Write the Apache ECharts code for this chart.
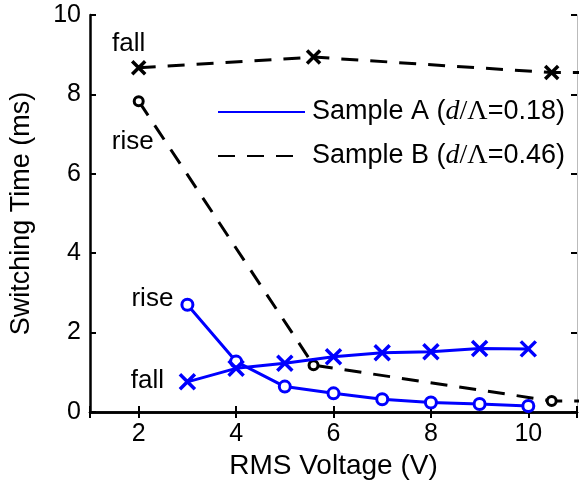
<!DOCTYPE html>
<html>
<head>
<meta charset="utf-8">
<script src="https://cdn.jsdelivr.net/npm/echarts@6/dist/echarts.min.js"></script>
<style>
html,body{margin:0;padding:0;background:#fff;}
#chart{width:580px;height:487px;}
</style>
</head>
<body>
<div id="chart"></div>
<script>
// ---- data ----
const voltageA = [3, 4, 5, 6, 7, 8, 9, 10];
const riseA = [2.70, 1.27, 0.64, 0.47, 0.32, 0.24, 0.20, 0.15];
const fallA = [0.76, 1.10, 1.23, 1.39, 1.49, 1.52, 1.60, 1.59];
const voltageB = [2, 5.59, 10.48, 11.2];
const riseB = [7.83, 1.18, 0.28, 0.28];
const fallB = [8.67, 8.94, 8.55, 8.55];
const xTicks = [2, 4, 6, 8, 10];
const yTicks = [0, 2, 4, 6, 8, 10];
const nameA = 'Sample A (d/Λ=0.18)';
const nameB = 'Sample B (d/Λ=0.46)';

const FONT = 'Liberation Sans, Arial, sans-serif';
const BLUE = '#0000ff';
const BLACK = '#000000';
const XSYM = 'path://M0,0L10,10M0,10L10,0';

function pairs(xs, ys, labelIdx, labelOpt, hideLast) {
  return xs.map((x, i) => {
    const item = { value: [x, ys[i]] };
    if (i === labelIdx) {
      item.label = Object.assign({
        show: true, position: 'inside', color: '#000',
        fontFamily: FONT, fontSize: 26
      }, labelOpt);
    }
    if (hideLast && i === xs.length - 1) item.symbol = 'none';
    return item;
  });
}

const chart = echarts.init(document.getElementById('chart'), null, { renderer: 'canvas' });

const axisCommon = {
  axisLine: { show: true, lineStyle: { color: '#000', width: 2.5 } },
  axisTick: { show: true, inside: true, length: 6, lineStyle: { color: '#000', width: 2 } },
  splitLine: { show: false }
};

chart.setOption({
  animation: false,
  backgroundColor: '#fff',
  grid: { left: 87, right: 2, top: 15, bottom: 75, containLabel: false },
  legend: {
    orient: 'vertical',
    left: 217, top: 97,
    padding: 0,
    itemWidth: 87, itemHeight: 20, itemGap: 14,
    selectedMode: false,
    itemStyle: { opacity: 0 },
    data: [nameA, nameB],
    formatter: function (name) {
      const m = name.match(/^(Sample .) \(d\/Λ=(.*)\)$/);
      return '{n|' + m[1] + ' (}{i|d}{s|/Λ}{n|=' + m[2] + ')}';
    },
    textStyle: {
      color: '#000', fontFamily: FONT, fontSize: 27, lineHeight: 30, padding: [0, 0, 0, 2],
      rich: {
        n: { fontFamily: FONT, fontSize: 27, color: '#000' },
        i: { fontFamily: 'Liberation Serif, Times New Roman, serif', fontStyle: 'italic', fontSize: 28, color: '#000' },
        s: { fontFamily: 'Liberation Serif, Times New Roman, serif', fontSize: 28, color: '#000' }
      }
    }
  },
  xAxis: [
    Object.assign({}, axisCommon, {
      type: 'value', min: 1, max: 11, splitNumber: 5,
      position: 'bottom',
      name: 'RMS Voltage (V)', nameLocation: 'middle', nameGap: 40,
      nameTextStyle: { color: '#000', fontFamily: FONT, fontSize: 28 },
      axisLabel: {
        color: '#000', fontFamily: FONT, fontSize: 25, margin: 10,
        formatter: v => (xTicks.indexOf(v) >= 0 ? String(v) : '')
      }
    }),
    Object.assign({}, axisCommon, {
      type: 'value', min: 1, max: 11, splitNumber: 5,
      position: 'top',
      axisLabel: { show: false }
    })
  ],
  yAxis: [
    Object.assign({}, axisCommon, {
      type: 'value', min: yTicks[0], max: yTicks[yTicks.length - 1], interval: 2,
      position: 'left',
      name: 'Switching Time (ms)', nameLocation: 'middle', nameGap: 55,
      nameTextStyle: { color: '#000', fontFamily: FONT, fontSize: 27 },
      axisLabel: { color: '#000', fontFamily: FONT, fontSize: 25, margin: 9 }
    }),
    Object.assign({}, axisCommon, {
      type: 'value', min: yTicks[0], max: yTicks[yTicks.length - 1], interval: 2,
      position: 'right',
      axisLine: { show: true, lineStyle: { color: '#bbbbbb', width: 1 } },
      axisLabel: { show: false }
    })
  ],
  series: [
    {
      name: nameA, type: 'line',
      data: pairs(voltageA, riseA, 0, { formatter: 'rise', offset: [-35, -6] }, false),
      symbol: 'circle', symbolSize: 11,
      lineStyle: { color: BLUE, width: 3 },
      itemStyle: { color: '#ffffff', borderColor: BLUE, borderWidth: 3 },
      emphasis: { disabled: true }, z: 3
    },
    {
      name: nameA, type: 'line',
      data: pairs(voltageA, fallA, 0, { formatter: 'fall', offset: [-40, -1] }, false),
      symbol: XSYM, symbolSize: 15,
      lineStyle: { color: BLUE, width: 3 },
      itemStyle: { color: BLUE, borderColor: BLUE, borderWidth: 3.5 },
      emphasis: { disabled: true }, z: 3
    },
    {
      name: nameB, type: 'line',
      data: pairs(voltageB, riseB, 0, { formatter: 'rise', offset: [-6, 41] }, true),
      symbol: 'circle', symbolSize: 9,
      lineStyle: { color: BLACK, width: 3, type: [17, 12] },
      itemStyle: { color: '#ffffff', borderColor: BLACK, borderWidth: 3 },
      emphasis: { disabled: true }, z: 2
    },
    {
      name: nameB, type: 'line',
      data: pairs(voltageB, fallB, 0, { formatter: 'fall', offset: [-10, -24] }, true),
      symbol: XSYM, symbolSize: 13,
      lineStyle: { color: BLACK, width: 3, type: [17, 12] },
      itemStyle: { color: BLACK, borderColor: BLACK, borderWidth: 3.5 },
      emphasis: { disabled: true }, z: 2
    }
  ]
});
</script>
</body>
</html>
